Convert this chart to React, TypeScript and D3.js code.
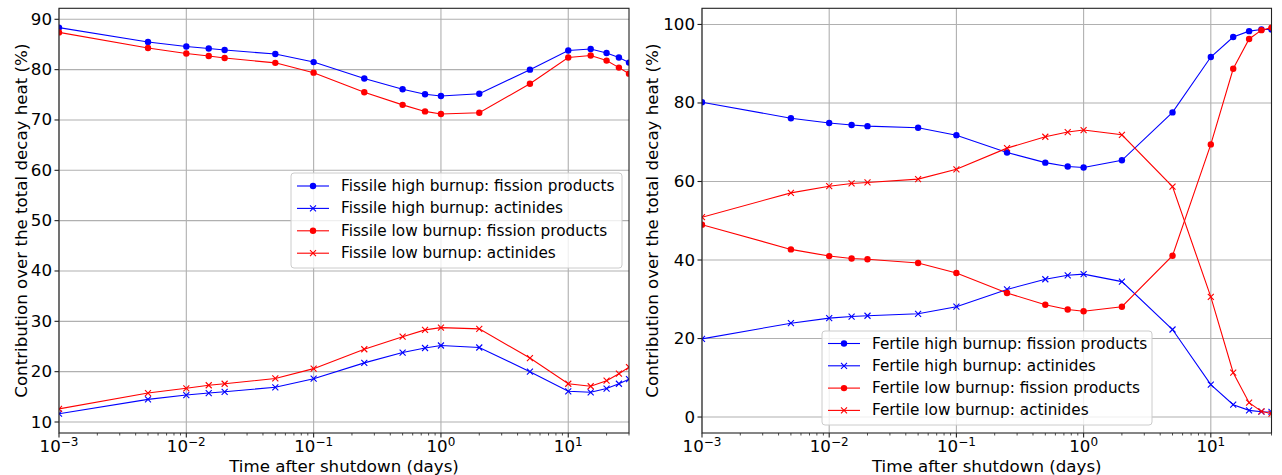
import React from 'react';
import * as d3 from 'd3';

// ---------- DATA ----------
const times = [0.001, 0.005, 0.01, 0.015, 0.02, 0.05, 0.1, 0.25, 0.5, 0.75, 1, 2, 5, 10, 15, 20, 25, 30];

const fissileHighFP = [88.35, 85.5, 84.6, 84.2, 83.9, 83.1, 81.5, 78.25, 76.1, 75.1, 74.75, 75.2, 80.0, 83.8, 84.1, 83.3, 82.4, 81.4];
const fissileHighAct = [11.65, 14.5, 15.35, 15.75, 16.0, 16.9, 18.6, 21.75, 23.8, 24.7, 25.2, 24.8, 20.0, 16.1, 15.9, 16.65, 17.6, 18.5];
const fissileLowFP = [87.4, 84.3, 83.2, 82.7, 82.3, 81.35, 79.4, 75.5, 73.0, 71.7, 71.2, 71.45, 77.2, 82.4, 82.8, 81.8, 80.4, 79.2];
const fissileLowAct = [12.6, 15.75, 16.7, 17.3, 17.6, 18.65, 20.6, 24.45, 26.95, 28.3, 28.75, 28.5, 22.7, 17.6, 17.1, 18.2, 19.6, 20.9];

const fertileHighFP = [80.2, 76.1, 74.9, 74.4, 74.1, 73.7, 71.8, 67.4, 64.8, 63.8, 63.55, 65.4, 77.6, 91.7, 96.8, 98.3, 98.7, 98.7];
const fertileHighAct = [19.9, 23.9, 25.2, 25.6, 25.8, 26.3, 28.1, 32.5, 35.1, 36.1, 36.4, 34.5, 22.3, 8.25, 3.15, 1.7, 1.35, 1.3];
const fertileLowFP = [49.0, 42.7, 41.0, 40.4, 40.2, 39.25, 36.7, 31.6, 28.6, 27.4, 26.95, 28.1, 41.1, 69.45, 88.7, 96.3, 98.55, 99.2];
const fertileLowAct = [50.9, 57.1, 58.8, 59.5, 59.75, 60.6, 63.1, 68.5, 71.4, 72.6, 73.1, 71.9, 58.7, 30.6, 11.3, 3.65, 1.45, 0.85];

const leftNames = [
  'Fissile high burnup: fission products',
  'Fissile high burnup: actinides',
  'Fissile low burnup: fission products',
  'Fissile low burnup: actinides',
];
const rightNames = [
  'Fertile high burnup: fission products',
  'Fertile high burnup: actinides',
  'Fertile low burnup: fission products',
  'Fertile low burnup: actinides',
];
const leftYTicks = [10, 20, 30, 40, 50, 60, 70, 80, 90];
const rightYTicks = [0, 20, 40, 60, 80, 100];
const xMajorExps = [-3, -2, -1, 0, 1];
const xDomain = [0.001, 30];
const xLabel = 'Time after shutdown (days)';
const yLabel = 'Contribution over the total decay heat (%)';

// ---------- STYLE ----------
const FONT = '"DejaVu Sans", sans-serif';
const BLUE = '#0000ff';
const RED = '#ff0000';

type Series = { name: string; values: number[]; color: string; marker: 'o' | 'x' };

function Marker({ cx, cy, kind, color }: { cx: number; cy: number; kind: 'o' | 'x'; color: string }) {
  if (kind === 'o') return <circle cx={cx} cy={cy} r={3.2} fill={color} />;
  const s = 3;
  return (
    <path
      d={`M${cx - s},${cy - s}L${cx + s},${cy + s}M${cx - s},${cy + s}L${cx + s},${cy - s}`}
      stroke={color}
      strokeWidth={1.1}
      fill="none"
    />
  );
}

function Panel(props: {
  id: string;
  left: number;
  right: number;
  top: number;
  bottom: number;
  series: Series[];
  yTicks: number[];
  legend: { x: number; y: number; w: number; h: number; first: number; step: number };
  yLabelX: number;
}) {
  const { id, left, right, top, bottom, series, yTicks, legend, yLabelX } = props;
  const x = d3.scaleLog().domain(xDomain).range([left, right]);
  const all = series.flatMap((s) => s.values);
  const [mn, mx] = d3.extent(all) as [number, number];
  const pad = (mx - mn) * 0.05;
  const y = d3.scaleLinear().domain([mn - pad, mx + pad]).range([bottom, top]);
  const line = d3
    .line<number>()
    .x((_, i) => x(times[i]))
    .y((v) => y(v));

  const minors: number[] = [];
  for (let e = -3; e <= 1; e++)
    for (let k = 2; k <= 9; k++) {
      const v = k * Math.pow(10, e);
      if (v <= xDomain[1]) minors.push(v);
    }

  const cx = (left + right) / 2;
  const cy = (top + bottom) / 2;

  return (
    <g>
      <defs>
        <clipPath id={`clip-${id}`}>
          <rect x={left} y={top} width={right - left} height={bottom - top} />
        </clipPath>
      </defs>
      {/* grid */}
      {xMajorExps.map((e) => (
        <line key={`gx${e}`} x1={x(Math.pow(10, e))} x2={x(Math.pow(10, e))} y1={top} y2={bottom} stroke="#b0b0b0" strokeWidth={1.1} />
      ))}
      {yTicks.map((t) => (
        <line key={`gy${t}`} x1={left} x2={right} y1={y(t)} y2={y(t)} stroke="#b0b0b0" strokeWidth={1.1} />
      ))}
      {/* series */}
      <g clipPath={`url(#clip-${id})`}>
        {series.map((s, si) => (
          <g key={si}>
            <path d={line(s.values) || ''} fill="none" stroke={s.color} strokeWidth={1.1} />
            {s.values.map((v, i) => (
              <Marker key={i} cx={x(times[i])} cy={y(v)} kind={s.marker} color={s.color} />
            ))}
          </g>
        ))}
      </g>
      {/* frame */}
      <rect x={left} y={top} width={right - left} height={bottom - top} fill="none" stroke="#222" strokeWidth={1.1} />
      {/* x ticks */}
      {minors.map((v, i) => (
        <line key={`mn${i}`} x1={x(v)} x2={x(v)} y1={bottom} y2={bottom + 2.5} stroke="#222" strokeWidth={0.8} />
      ))}
      {xMajorExps.map((e) => {
        const px = x(Math.pow(10, e));
        return (
          <g key={`xt${e}`}>
            <line x1={px} x2={px} y1={bottom} y2={bottom + 4.5} stroke="#222" strokeWidth={1.1} />
            <text x={px} y={bottom + 19} textAnchor="middle" fontFamily={FONT} fontSize={16.67} fill="#000">
              <tspan>10</tspan>
              <tspan fontSize={12} dy={-6.5}>{e < 0 ? `\u2212${-e}` : `${e}`}</tspan>
            </text>
          </g>
        );
      })}
      {/* y ticks */}
      {yTicks.map((t) => (
        <g key={`yt${t}`}>
          <line x1={left - 4.5} x2={left} y1={y(t)} y2={y(t)} stroke="#222" strokeWidth={1.1} />
          <text x={left - 7} y={y(t)} textAnchor="end" dominantBaseline="central" fontFamily={FONT} fontSize={16.67} fill="#000">
            {t}
          </text>
        </g>
      ))}
      {/* axis labels */}
      <text x={cx} y={bottom + 39} textAnchor="middle" fontFamily={FONT} fontSize={16.67} fill="#000">
        {xLabel}
      </text>
      <text
        transform={`translate(${yLabelX},${cy}) rotate(-90)`}
        textAnchor="middle"
        dominantBaseline="central"
        fontFamily={FONT}
        fontSize={16.67}
        fill="#000"
      >
        {yLabel}
      </text>
      {/* legend */}
      <g>
        <rect x={legend.x} y={legend.y} width={legend.w} height={legend.h} rx={3} ry={3} fill="#fff" fillOpacity={0.8} stroke="#cccccc" strokeWidth={1} />
        {series.map((s, i) => {
          const ly = legend.first + i * legend.step;
          return (
            <g key={`lg${i}`}>
              <line x1={legend.x + 6} x2={legend.x + 38} y1={ly} y2={ly} stroke={s.color} strokeWidth={1.1} />
              <Marker cx={legend.x + 22} cy={ly} kind={s.marker} color={s.color} />
              <text x={legend.x + 50} y={ly} dominantBaseline="central" fontFamily={FONT} fontSize={15.28} fill="#000">
                {s.name}
              </text>
            </g>
          );
        })}
      </g>
    </g>
  );
}

export default function App() {
  const leftSeries: Series[] = [
    { name: leftNames[0], values: fissileHighFP, color: BLUE, marker: 'o' },
    { name: leftNames[1], values: fissileHighAct, color: BLUE, marker: 'x' },
    { name: leftNames[2], values: fissileLowFP, color: RED, marker: 'o' },
    { name: leftNames[3], values: fissileLowAct, color: RED, marker: 'x' },
  ];
  const rightSeries: Series[] = [
    { name: rightNames[0], values: fertileHighFP, color: BLUE, marker: 'o' },
    { name: rightNames[1], values: fertileHighAct, color: BLUE, marker: 'x' },
    { name: rightNames[2], values: fertileLowFP, color: RED, marker: 'o' },
    { name: rightNames[3], values: fertileLowAct, color: RED, marker: 'x' },
  ];
  return (
    <svg
      width={1282}
      height={475}
      viewBox="0 0 1282 475"
      style={{ position: 'absolute', left: 0, top: 0, background: '#fff' }}
    >
      <rect x={0} y={0} width={1282} height={475} fill="#fff" />
      <Panel
        id="L"
        left={59}
        right={629}
        top={8.3}
        bottom={433}
        series={leftSeries}
        yTicks={leftYTicks}
        legend={{ x: 291, y: 173, w: 331, h: 95, first: 186, step: 22.4 }}
        yLabelX={21}
      />
      <Panel
        id="R"
        left={702}
        right={1271.5}
        top={8.3}
        bottom={433}
        series={rightSeries}
        yTicks={rightYTicks}
        legend={{ x: 822, y: 331, w: 330, h: 94, first: 343.5, step: 22.3 }}
        yLabelX={652}
      />
    </svg>
  );
}
